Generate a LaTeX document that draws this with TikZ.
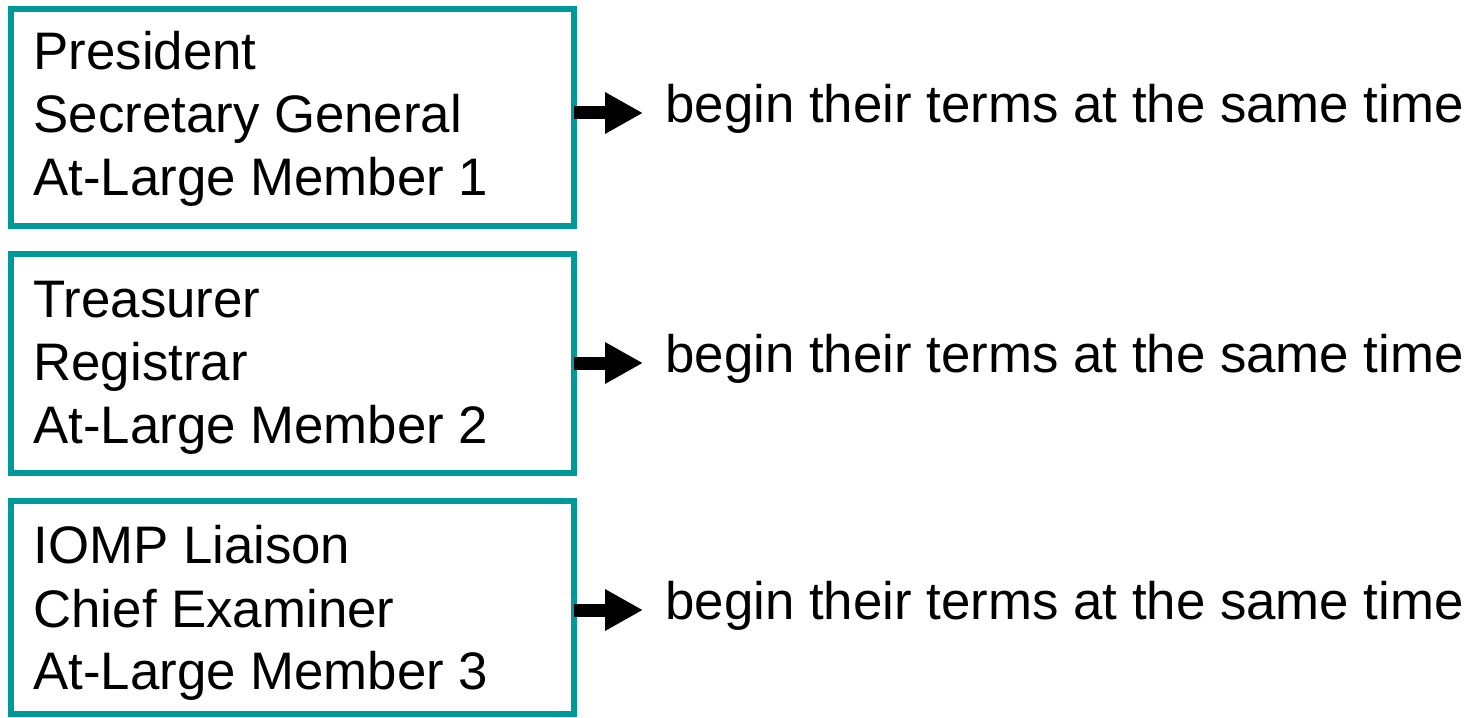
\documentclass[tikz,border=0pt]{standalone}
\usepackage{fontspec}
\setmainfont{Liberation Sans}
\usetikzlibrary{arrows.meta}
\definecolor{tealbox}{RGB}{0,153,153}
\begin{document}
\begin{tikzpicture}[x=0.5pt,y=-0.5pt,
  box/.style={draw=tealbox, line width=3pt, rectangle, inner sep=0pt, outer sep=0pt, minimum width=281.5pt},
  lbl/.style={font=\fontsize{26.4}{31}\selectfont, inner sep=0pt, outer sep=0pt, anchor=base west},
  arr/.style={line width=6.5pt, -{Triangle[length=19pt, width=19.5pt]}}]
\useasboundingbox (0,0) rectangle (1471,717);
% boxes
\node[box, minimum height=108.5pt] (b1) at (292.5,117.5) {};
\node[box, minimum height=109.5pt] (b2) at (292.5,363.5) {};
\node[box, minimum height=106.5pt] (b3) at (292.5,607.5) {};
% box texts
\node[lbl] (t11) at (33.5,70) {President};
\node[lbl] (t12) at (33.5,133) {Secretary General};
\node[lbl] (t13) at (33.5,195) {At-Large Member 1};
\node[lbl] (t21) at (33.5,317) {Treasurer};
\node[lbl] (t22) at (33.5,380) {Registrar};
\node[lbl] (t23) at (33.5,443) {At-Large Member 2};
\node[lbl] (t31) at (33.5,563) {IOMP Liaison};
\node[lbl] (t32) at (33.5,627) {Chief Examiner};
\node[lbl] (t33) at (33.5,689) {At-Large Member 3};
% right texts
\node[lbl] (r1) at (665.5,122) {begin their terms at the same time};
\node[lbl] (r2) at (665.5,372) {begin their terms at the same time};
\node[lbl] (r3) at (665.5,619) {begin their terms at the same time};
% arrows
\coordinate (a1) at (643,113);
\coordinate (a2) at (643,363);
\coordinate (a3) at (643,610);
\draw[arr] (b1.east |- a1) -- (a1);
\draw[arr] (b2.east |- a2) -- (a2);
\draw[arr] (b3.east |- a3) -- (a3);
\end{tikzpicture}
\end{document}
